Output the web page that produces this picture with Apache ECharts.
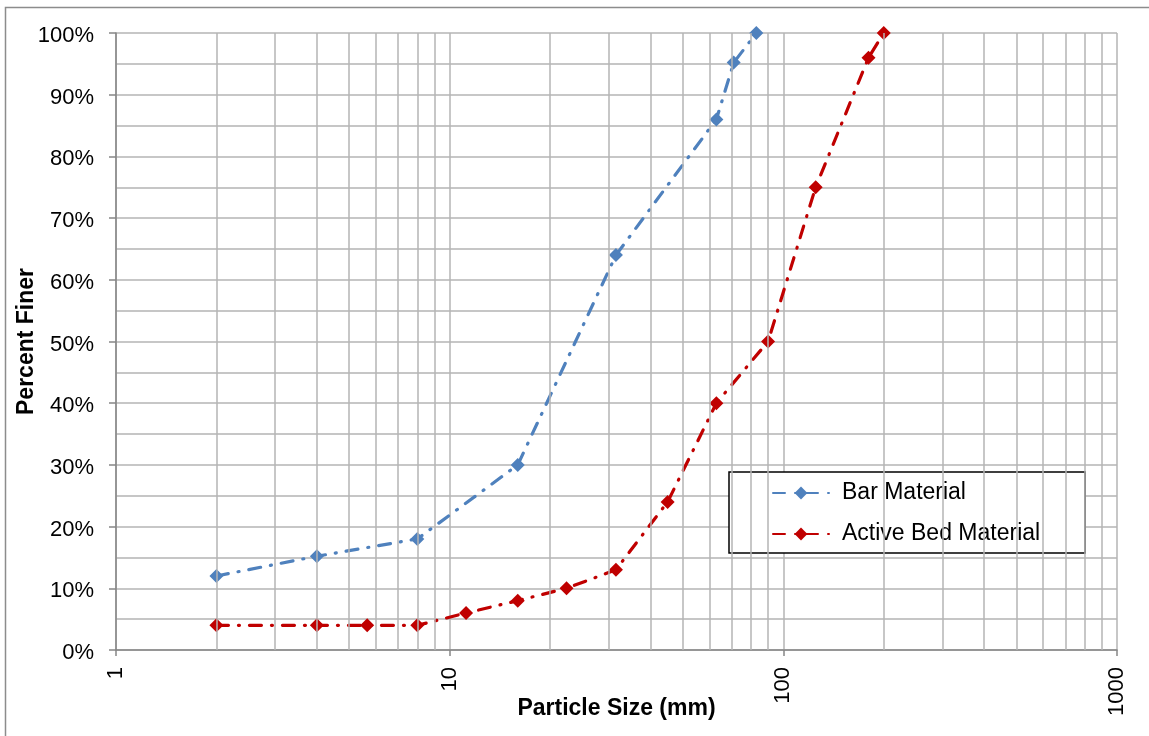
<!DOCTYPE html>
<html>
<head>
<meta charset="utf-8">
<script src="https://cdn.jsdelivr.net/npm/echarts@6/dist/echarts.min.js"></script>
<style>html,body{margin:0;padding:0;background:#fff}#c{width:1149px;height:736px}</style>
</head>
<body>
<div id="c"></div>
<script>
const barSizes = [2, 4, 8, 16, 31.5, 63, 71, 83];
const barFiner = [12, 15.2, 18, 30, 64, 86, 95.2, 100];
const bedSizes = [2, 4, 5.66, 8, 11.2, 16, 22.4, 31.5, 45, 63, 90, 125, 180, 200];
const bedFiner = [4, 4, 4, 4, 6, 8, 10, 13, 24, 40, 50, 75, 96, 100];
const minorGrid = [2,3,4,5,6,7,8,9,20,30,40,50,60,70,80,90,200,300,400,500,600,700,800,900];
const seriesNames = ['Bar Material', 'Active Bed Material'];

const chart = echarts.init(document.getElementById('c'), null, {renderer: 'canvas'});
const font = 'Liberation Sans, Arial, sans-serif';
const gridColor = '#b4b4b4';
const axisColor = '#868686';
function pairs(xs, ys) { return xs.map((x, i) => [x, ys[i]]); }

chart.setOption({
  animation: false,
  backgroundColor: '#fff',
  textStyle: {fontFamily: font},
  graphic: [{
    type: 'rect', silent: true, z: -10,
    shape: {x: 5.5, y: 7.5, width: 1160, height: 760},
    style: {fill: 'none', stroke: '#8c8c8c', lineWidth: 1.5}
  }],
  grid: {left: 116, right: 32, top: 33, bottom: 86, containLabel: false, outerBoundsMode: 'none'},
  legend: {
    orient: 'vertical',
    left: 729, top: 472,
    data: seriesNames,
    backgroundColor: '#fff',
    borderColor: '#000',
    borderWidth: 1.5,
    borderRadius: 0,
    padding: [8, 45, 6, 43],
    itemWidth: 56,
    itemHeight: 16,
    itemGap: 15,
    textStyle: {fontSize: 23, color: '#000', fontFamily: font, lineHeight: 26, padding: [0, 0, 0, 8]}
  },
  xAxis: {
    type: 'log', logBase: 10, min: 1, max: 1000,
    name: 'Particle Size (mm)', nameLocation: 'middle', nameGap: 47, nameMoveOverlap: false,
    nameTextStyle: {fontSize: 23, fontWeight: 'bold', color: '#000', fontFamily: font},
    axisLine: {show: true, lineStyle: {color: axisColor, width: 1.5}},
    axisTick: {show: true, inside: false, length: 6, lineStyle: {color: axisColor, width: 1.5}},
    axisLabel: {rotate: 90, fontSize: 22, color: '#000', margin: 17, fontFamily: font,
      formatter: v => String(Math.round(v))},
    splitLine: {show: true, lineStyle: {color: gridColor, width: 1.5}},
    minorTick: {show: false},
    minorSplitLine: {show: false}
  },
  yAxis: {
    type: 'value', min: 0, max: 100, interval: 10,
    name: 'Percent Finer', nameLocation: 'middle', nameGap: 78, nameMoveOverlap: false,
    nameTextStyle: {fontSize: 23, fontWeight: 'bold', color: '#000', fontFamily: font},
    axisLine: {show: true, lineStyle: {color: axisColor, width: 1.5}},
    axisTick: {show: true, inside: false, length: 7, lineStyle: {color: axisColor, width: 1.5}},
    axisLabel: {formatter: '{value}%', fontSize: 22, color: '#000', margin: 22, fontFamily: font,
      verticalAlign: 'top', lineHeight: 6},
    splitLine: {show: true, lineStyle: {color: gridColor, width: 1.5}},
    minorTick: {show: false, splitNumber: 2},
    minorSplitLine: {show: true, lineStyle: {color: gridColor, width: 1.5}}
  },
  series: [
    {
      name: '_minor', type: 'line', data: [], z: 1, silent: true,
      markLine: {
        silent: true, symbol: 'none', animation: false,
        label: {show: false},
        lineStyle: {color: gridColor, width: 1.5, type: 'solid'},
        emphasis: {disabled: true},
        data: minorGrid.map(v => ({xAxis: v}))
      }
    },
    {
      name: seriesNames[0], type: 'line', z: 3,
      data: pairs(barSizes, barFiner),
      symbol: 'diamond', symbolSize: 14,
      itemStyle: {color: '#4F81BD'},
      lineStyle: {color: '#4F81BD', width: 3.2, type: [12, 10, 1, 10], cap: 'round'}
    },
    {
      name: seriesNames[1], type: 'line', z: 4,
      data: pairs(bedSizes, bedFiner),
      symbol: 'diamond', symbolSize: 14,
      itemStyle: {color: '#C00000'},
      lineStyle: {color: '#C00000', width: 3.2, type: [12, 10, 1, 10], cap: 'round'}
    }
  ]
});
</script>
</body>
</html>
